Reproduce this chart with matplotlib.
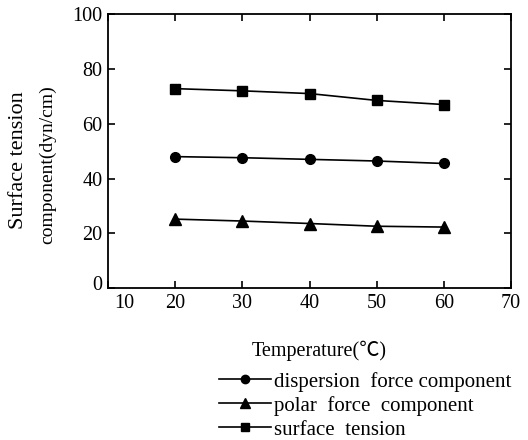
import matplotlib
matplotlib.use('Agg')
import matplotlib.pyplot as plt
import matplotlib.transforms as mtransforms
from matplotlib.lines import Line2D

temp = [20, 30, 40, 50, 60]
dispersion = [48.0, 47.6, 47.0, 46.4, 45.5]
polar = [25.2, 24.5, 23.6, 22.6, 22.3]
surface = [72.8, 72.0, 71.0, 68.5, 67.0]

plt.rcParams['font.family'] = ['Liberation Serif', 'DejaVu Serif']

fig = plt.figure(figsize=(5.28, 4.4), dpi=100)
ax = fig.add_axes([0.2045, 0.345, 0.7635, 0.623])

ax.plot(temp, dispersion, '-o', color='black', lw=1.2, ms=7)
ax.plot(temp, polar, '-^', color='black', lw=1.2, ms=8)
ax.plot(temp, surface, '-s', color='black', lw=1.2, ms=7)

ax.set_xlim(10, 70)
ax.set_ylim(0, 100)
ax.set_xticks([10, 20, 30, 40, 50, 60, 70])
ax.set_yticks([0, 20, 40, 60, 80, 100])
ax.tick_params(direction='in', top=True, right=True, length=5, width=1.2, labelsize=14.5, pad=4)
for s in ax.spines.values():
    s.set_linewidth(1.3)

# nudge the corner labels apart like the original
fig.canvas.draw()
xl = ax.get_xticklabels()[0]
xl.set_transform(xl.get_transform() + mtransforms.ScaledTranslation(0.16, 0, fig.dpi_scale_trans))
yl = ax.get_yticklabels()[0]
yl.set_transform(yl.get_transform() + mtransforms.ScaledTranslation(0, 0.05, fig.dpi_scale_trans))

fig.text(0.035, 0.635, 'Surface tension', rotation=90, ha='center', va='center', fontsize=16)
fig.text(0.091, 0.625, 'component(dyn/cm)', rotation=90, ha='center', va='center', fontsize=14)
fig.text(0.605, 0.203, 'Temperature(\u2103)', ha='center', va='center', fontsize=14.5,
         family=['Liberation Serif', 'Noto Sans CJK SC'])

handles = [Line2D([], [], color='black', marker='o', lw=1.2, ms=6),
           Line2D([], [], color='black', marker='^', lw=1.2, ms=7),
           Line2D([], [], color='black', marker='s', lw=1.2, ms=6)]
labels = ['dispersion  force component', 'polar  force  component', 'surface  tension']
fig.legend(handles, labels, loc='upper left', bbox_to_anchor=(0.415, 0.155), frameon=False,
           fontsize=15, handlelength=2.5, handletextpad=0.15, labelspacing=0.2,
           borderpad=0, borderaxespad=0)

fig.savefig('out.png', dpi=100, facecolor='white')
